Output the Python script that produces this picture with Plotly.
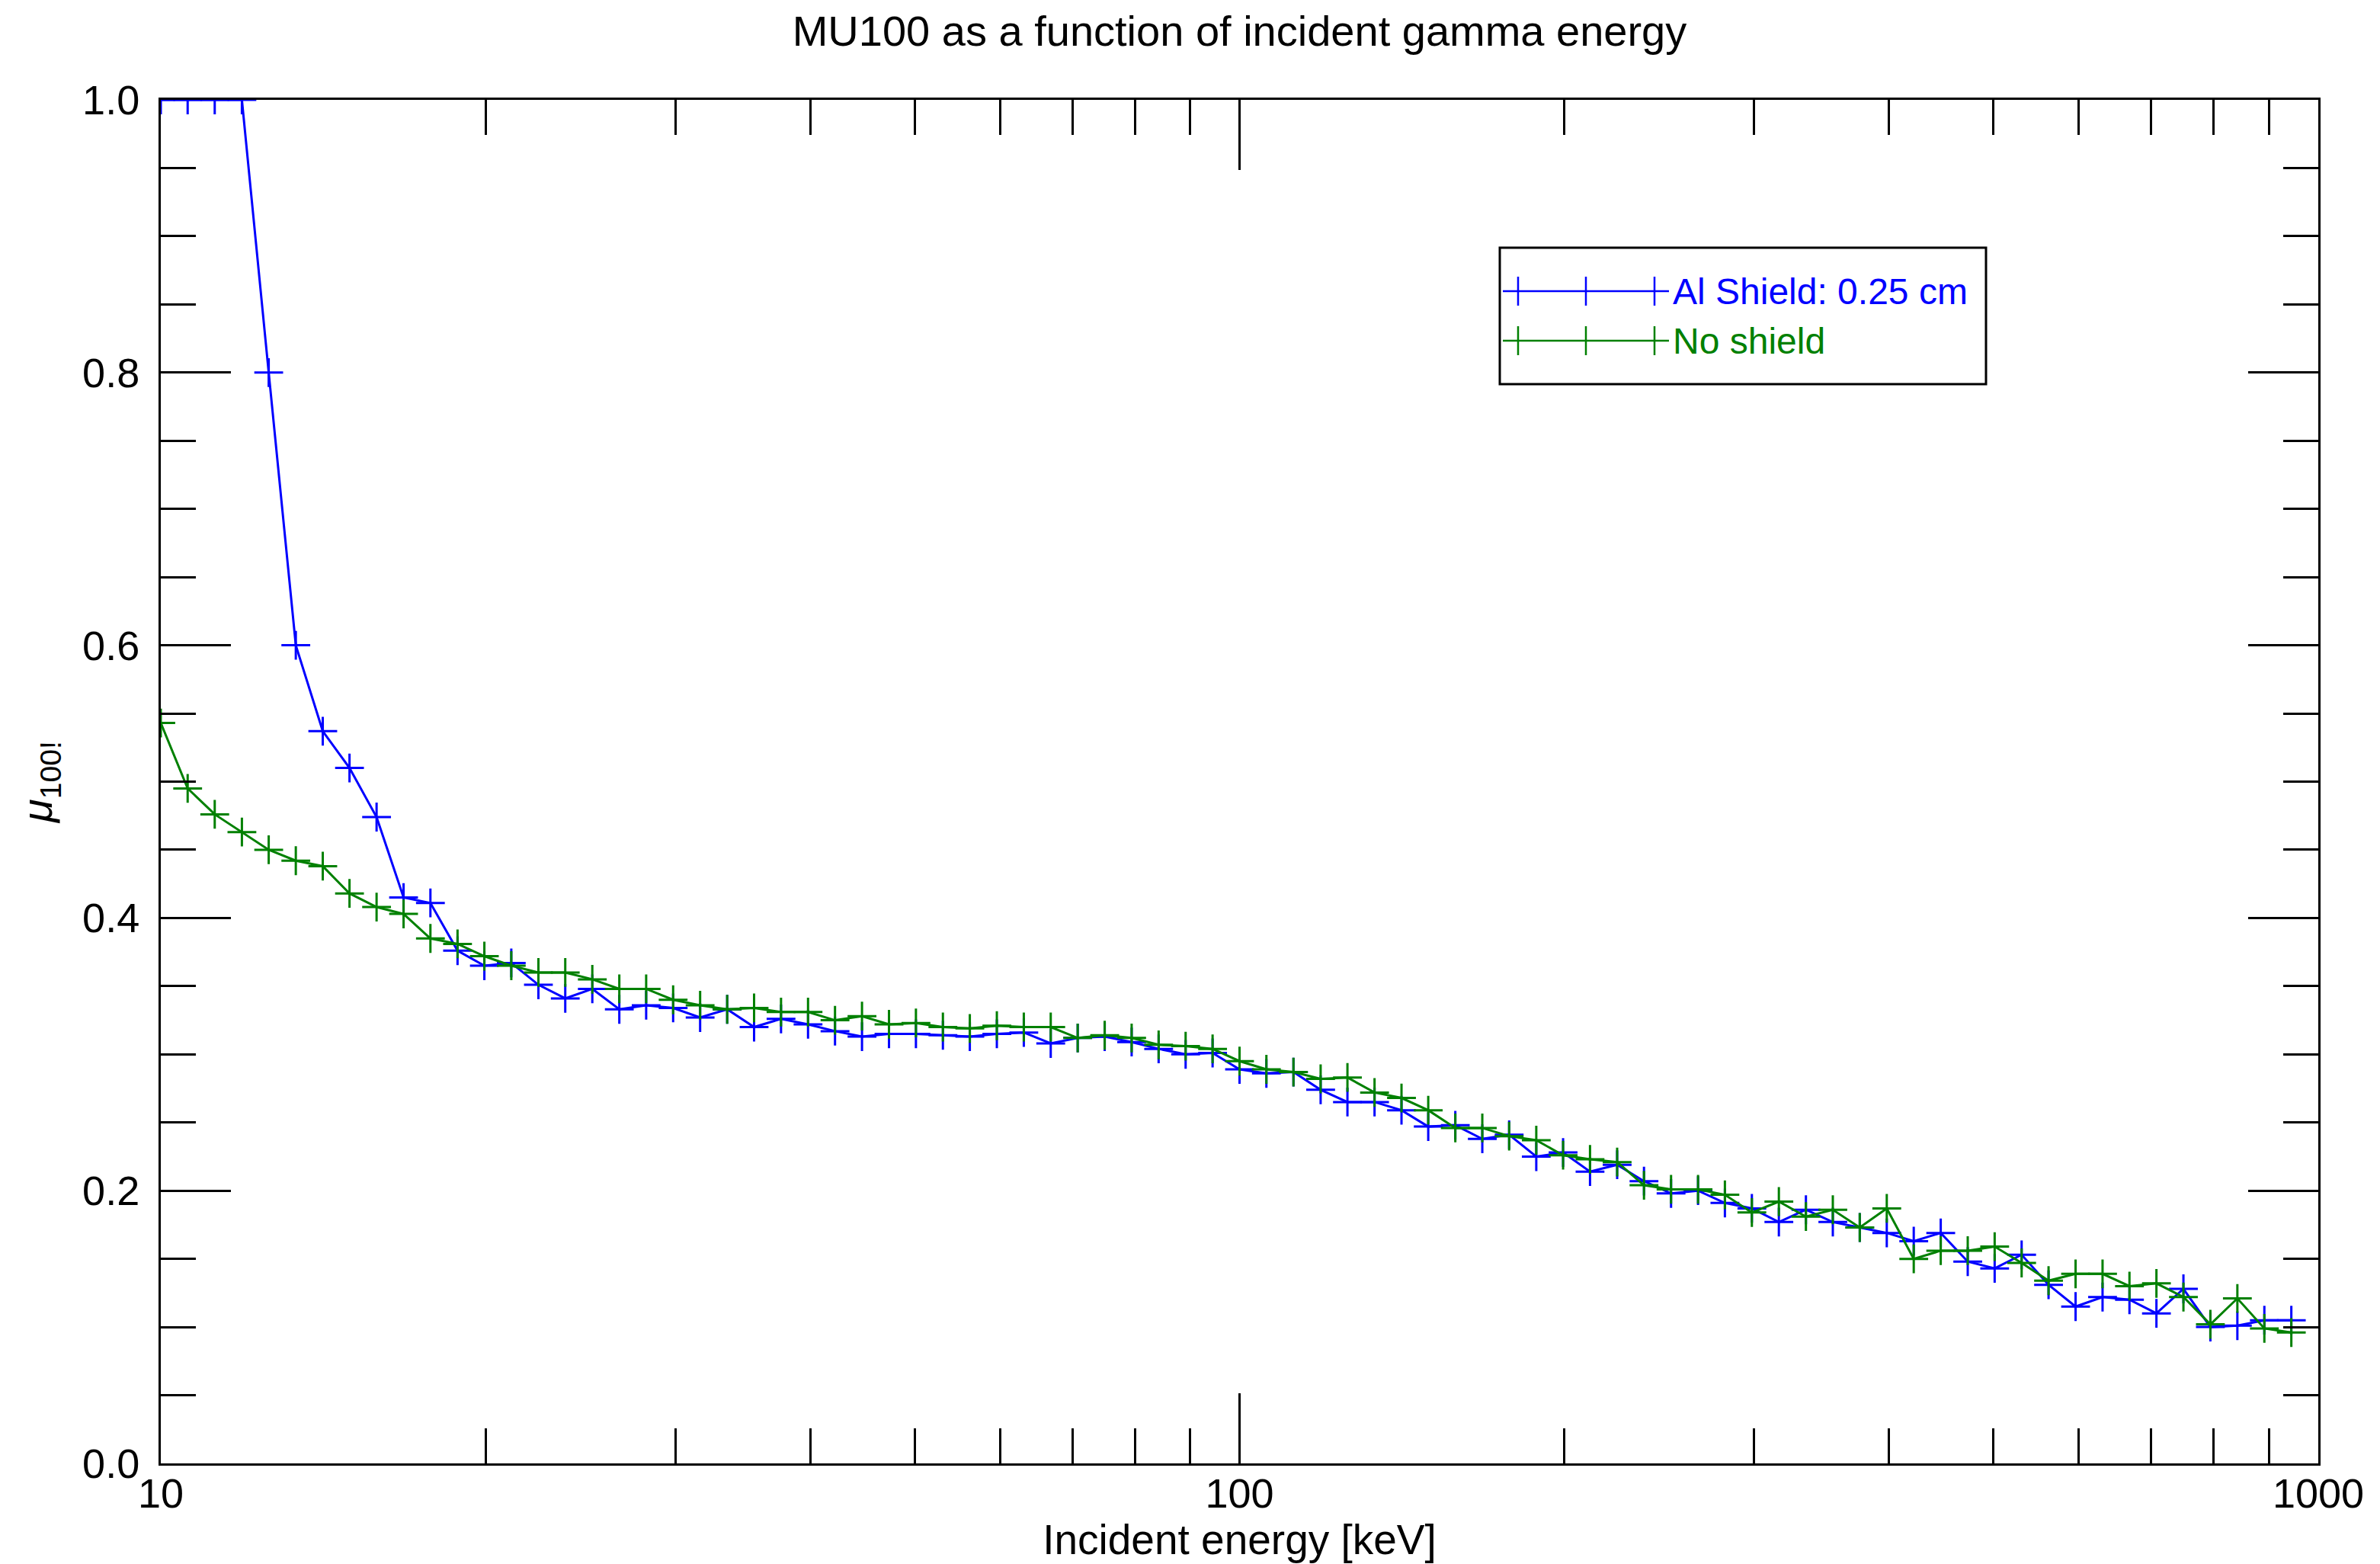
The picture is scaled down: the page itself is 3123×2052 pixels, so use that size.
import plotly.graph_objects as go

# ---------------- data ----------------
energy_kev = [
    10.0, 10.59, 11.22, 11.89, 12.59, 13.34, 14.13, 14.96, 15.85, 16.79,
    17.78, 18.84, 19.95, 21.13, 22.39, 23.71, 25.12, 26.61, 28.18, 29.85,
    31.62, 33.50, 35.48, 37.58, 39.81, 42.17, 44.67, 47.32, 50.12, 53.09,
    56.23, 59.57, 63.10, 66.83, 70.79, 74.99, 79.43, 84.14, 89.13, 94.41,
    100.0, 105.9, 112.2, 118.9, 125.9, 133.4, 141.3, 149.6, 158.5, 167.9,
    177.8, 188.4, 199.5, 211.3, 223.9, 237.1, 251.2, 266.1, 281.8, 298.5,
    316.2, 335.0, 354.8, 375.8, 398.1, 421.7, 446.7, 473.2, 501.2, 530.9,
    562.3, 595.7, 631.0, 668.3, 707.9, 749.9, 794.3, 841.4, 891.3, 944.1,
]

mu100_al_shield = [
    1.000, 1.000, 1.000, 1.000, 0.800, 0.600, 0.537, 0.510, 0.474, 0.415,
    0.411, 0.376, 0.365, 0.367, 0.351, 0.341, 0.348, 0.333, 0.336, 0.334,
    0.327, 0.333, 0.320, 0.326, 0.322, 0.317, 0.313, 0.315, 0.315, 0.314,
    0.313, 0.315, 0.316, 0.308, 0.312, 0.313, 0.309, 0.304, 0.300, 0.301,
    0.289, 0.286, 0.287, 0.274, 0.265, 0.265, 0.259, 0.247, 0.248, 0.238,
    0.241, 0.225, 0.228, 0.214, 0.219, 0.207, 0.198, 0.200, 0.191, 0.187,
    0.177, 0.186, 0.177, 0.173, 0.169, 0.163, 0.169, 0.148, 0.143, 0.153,
    0.131, 0.115, 0.122, 0.120, 0.110, 0.128, 0.100, 0.101, 0.105, 0.105,
]

mu100_no_shield = [
    0.543, 0.495, 0.476, 0.463, 0.450, 0.442, 0.438, 0.418, 0.408, 0.403,
    0.385, 0.381, 0.372, 0.365, 0.360, 0.360, 0.355, 0.348, 0.348, 0.340,
    0.336, 0.333, 0.334, 0.331, 0.331, 0.325, 0.328, 0.322, 0.323, 0.320,
    0.319, 0.321, 0.320, 0.320, 0.312, 0.314, 0.312, 0.307, 0.306, 0.304,
    0.295, 0.289, 0.287, 0.282, 0.283, 0.272, 0.268, 0.259, 0.246, 0.246,
    0.240, 0.237, 0.226, 0.223, 0.221, 0.204, 0.201, 0.201, 0.197, 0.184,
    0.192, 0.181, 0.186, 0.173, 0.187, 0.150, 0.156, 0.156, 0.159, 0.147,
    0.134, 0.139, 0.139, 0.130, 0.132, 0.122, 0.102, 0.121, 0.099, 0.096,
]

series_names = ["Al Shield: 0.25 cm", "No shield"]
series_colors = ["#0000ff", "#008000"]

x_tick_vals = [10, 100, 1000]
x_tick_text = ["10", "100", "1000"]
x_minor_vals = [20, 30, 40, 50, 60, 70, 80, 90, 200, 300, 400, 500, 600, 700, 800, 900]
y_tick_vals = [0.0, 0.2, 0.4, 0.6, 0.8, 1.0]
y_tick_text = ["0.0", "0.2", "0.4", "0.6", "0.8", "1.0"]

# ---------------- figure ----------------
W, H = 3123, 2052
ML, MR, MT, MB = 211, 81, 131, 132
FONT = "Liberation Sans, Arial, Helvetica, sans-serif"

fig = go.Figure()
for name, vals, color in zip(series_names, [mu100_al_shield, mu100_no_shield], series_colors):
    fig.add_trace(go.Scatter(
        x=energy_kev, y=vals, mode="lines+markers", name=name,
        line=dict(color=color, width=3),
        marker=dict(symbol="cross-thin", size=27, color=color,
                    line=dict(color=color, width=3)),
        cliponaxis=True, showlegend=False,
    ))

fig.update_layout(
    width=W, height=H,
    margin=dict(l=ML, r=MR, t=MT, b=MB, autoexpand=False),
    paper_bgcolor="white", plot_bgcolor="white",
    font=dict(family=FONT, size=54, color="black"),
    title=dict(text="MU100 as a function of incident gamma energy",
               x=0.5, xref="paper", xanchor="center",
               y=1 - 40 / H, yref="container", yanchor="middle",
               font=dict(family=FONT, size=56, color="black")),
    showlegend=False,
)

fig.update_xaxes(
    type="log", range=[1, 3], tickmode="array",
    tickvals=x_tick_vals, ticktext=x_tick_text,
    ticks="inside", ticklen=92, tickwidth=2.5, tickcolor="black",
    ticklabelstandoff=-10,
    showline=True, linewidth=3, linecolor="black", mirror="ticks",
    showgrid=False, zeroline=False, automargin=False,
    tickfont=dict(family=FONT, size=54, color="black"),
    minor=dict(tickmode="array", tickvals=x_minor_vals, ticks="inside",
               ticklen=46, tickwidth=2.5, tickcolor="black", showgrid=False),
    title=dict(text="Incident energy [keV]", standoff=3,
               font=dict(family=FONT, size=55, color="black")),
)

fig.update_yaxes(
    range=[0, 1], tickmode="array", tickvals=y_tick_vals, ticktext=y_tick_text,
    ticks="inside", ticklen=92, tickwidth=2.5, tickcolor="black",
    ticklabelstandoff=14,
    showline=True, linewidth=3, linecolor="black", mirror="ticks",
    showgrid=False, zeroline=False, automargin=False,
    tickfont=dict(family=FONT, size=54, color="black"),
    minor=dict(dtick=0.05, ticks="inside", ticklen=46, tickwidth=2.5,
               tickcolor="black", showgrid=False),
    title=dict(text="<i>μ</i><sub>100!</sub>", standoff=22,
               font=dict(family=FONT, size=56, color="black")),
)

# ---------------- hand-drawn legend (IDL style) ----------------
pw, ph = W - ML - MR, H - MT - MB
def px(xp):
    return (xp - ML) / pw
def py(yp):
    return (H - MB - yp) / ph

box = dict(x0=px(1968), x1=px(2606), y0=py(504), y1=py(325))
fig.add_shape(type="rect", xref="paper", yref="paper", **box,
              line=dict(color="black", width=3), fillcolor="white", layer="above")
row_y = [382, 447]
sample_x0, sample_x1 = 1972, 2190
tick_x = [1992, 2081, 2171]
for name, color, ry in zip(series_names, series_colors, row_y):
    fig.add_shape(type="line", xref="paper", yref="paper",
                  x0=px(sample_x0), x1=px(sample_x1), y0=py(ry), y1=py(ry),
                  line=dict(color=color, width=2.5), layer="above")
    for tx in tick_x:
        fig.add_shape(type="line", xref="paper", yref="paper",
                      x0=px(tx), x1=px(tx), y0=py(ry - 19), y1=py(ry + 19),
                      line=dict(color=color, width=2.5), layer="above")
    fig.add_annotation(x=px(2193), y=py(ry), xref="paper", yref="paper",
                       xanchor="left", yanchor="middle", showarrow=False,
                       text=name, font=dict(family=FONT, size=48, color=color))

fig.write_html("out.html")
